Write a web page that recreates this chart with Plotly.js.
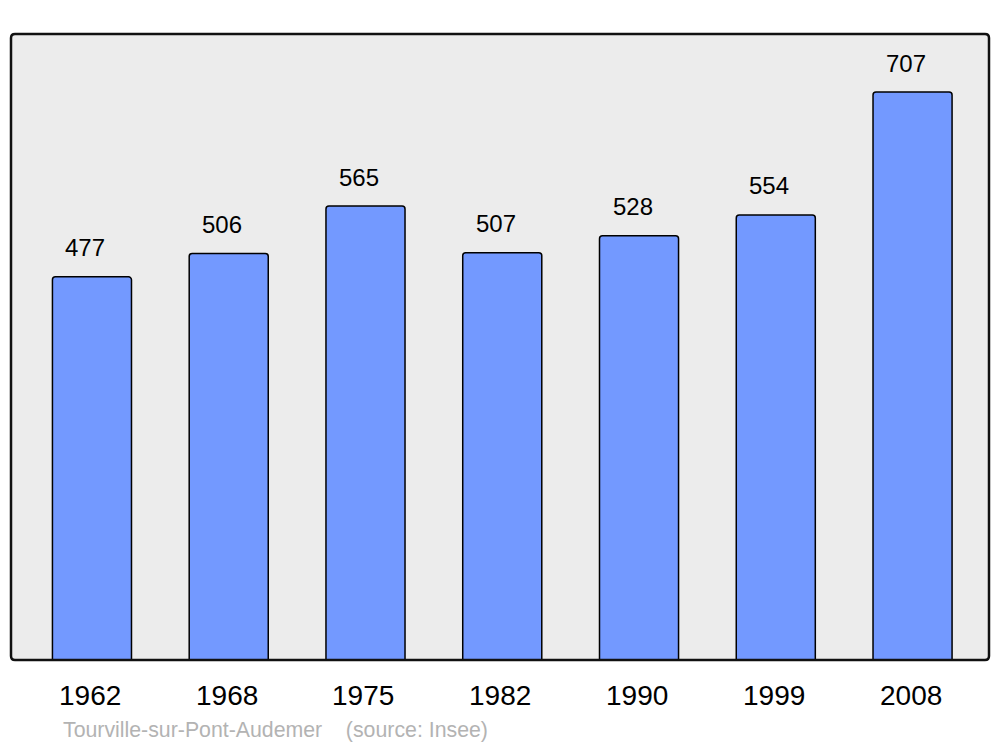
<!DOCTYPE html>
<html>
<head>
<meta charset="utf-8">
<script src="https://cdn.plot.ly/plotly-3.0.1.min.js"></script>
<style>html,body{margin:0;padding:0;background:#fff;}#chart{width:1000px;height:747px;}</style>
</head>
<body>
<div id="chart"></div>
<script>
const years = ["1962", "1968", "1975", "1982", "1990", "1999", "2008"];
const population = [477, 506, 565, 507, 528, 554, 707];
const sourceText = "Tourville-sur-Pont-Audemer\u00a0\u00a0\u00a0\u00a0(source: Insee)";

const idx = years.map((_, i) => i);
const FONT = '"Liberation Sans", Arial, sans-serif';

const trace = {
  type: 'bar',
  x: idx,
  y: population,
  width: 0.578,
  marker: {color: '#7399FF', line: {color: '#000', width: 1.5}, cornerradius: 3},
  hoverinfo: 'skip'
};

const annotations = population.map((v, i) => ({
  x: i, y: v, xref: 'x', yref: 'y',
  text: String(v), showarrow: false,
  yanchor: 'middle', yshift: 29, xshift: -6.5,
  font: {family: FONT, size: 24, color: '#000'}
}));
years.forEach((yr, i) => annotations.push({
  x: i, y: 0, xref: 'x', yref: 'paper',
  text: yr, showarrow: false,
  yanchor: 'middle', yshift: -35.5, xshift: -2,
  font: {family: FONT, size: 28, color: '#000'}
}));
annotations.push({
  xref: 'paper', yref: 'paper', x: 0.0511, y: -0.1118,
  xanchor: 'left', yanchor: 'middle', showarrow: false,
  text: sourceText,
  font: {family: FONT, size: 21.3, color: '#b3b3b3'}
});

const rx = 4 / 978, ry = 4 / 626;
const framePath = `M ${rx} 0 L ${1 - rx} 0 Q 1 0 1 ${ry} L 1 ${1 - ry} Q 1 1 ${1 - rx} 1 L ${rx} 1 Q 0 1 0 ${1 - ry} L 0 ${ry} Q 0 0 ${rx} 0 Z`;

const layout = {
  width: 1000, height: 747,
  margin: {l: 11, r: 11, t: 34, b: 87, pad: 0},
  paper_bgcolor: '#fff',
  plot_bgcolor: '#ECECEC',
  showlegend: false,
  font: {family: FONT},
  xaxis: {
    range: [-0.592, 6.559],
    tickvals: idx, ticktext: years,
    showticklabels: false,
    showgrid: false, zeroline: false, showline: false, ticks: '',
    fixedrange: true
  },
  yaxis: {
    range: [0, 779.2],
    showgrid: false, zeroline: false, showline: false, showticklabels: false, ticks: '',
    fixedrange: true
  },
  annotations: annotations,
  shapes: [{
    type: 'path', xref: 'paper', yref: 'paper', path: framePath,
    line: {color: '#111', width: 2.5}, layer: 'above'
  }]
};

Plotly.newPlot('chart', [trace], layout, {displayModeBar: false, staticPlot: true});
</script>
</body>
</html>
